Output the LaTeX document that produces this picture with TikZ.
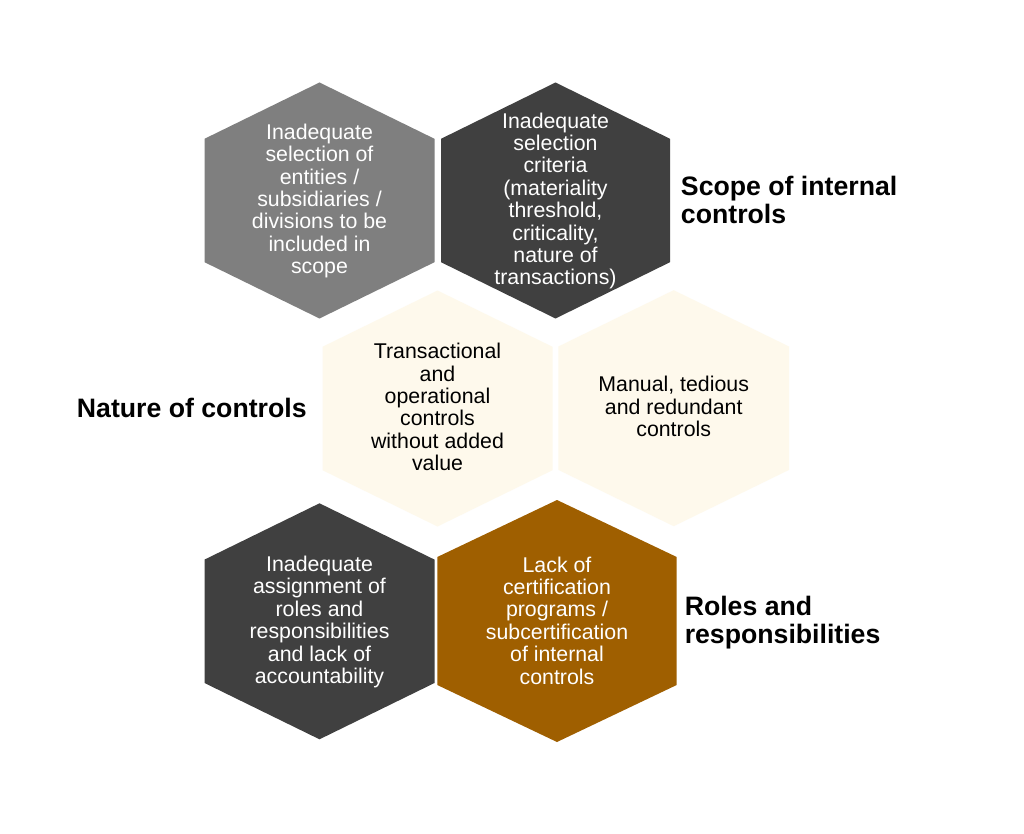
\documentclass[tikz,border=0pt]{standalone}
\usepackage{fontspec}
\setmainfont{Liberation Sans}
\definecolor{hgrey}{HTML}{7F7F7F}
\definecolor{hdark}{HTML}{404040}
\definecolor{hcream}{HTML}{FEF9EC}
\definecolor{hbrown}{HTML}{9F5F00}
\newcommand{\myhex}[6]{\fill[#6] ({#1},{#2-#4}) -- ({#1+#3},{#2-#5}) -- ({#1+#3},{#2+#5}) -- ({#1},{#2+#4}) -- ({#1-#3},{#2+#5}) -- ({#1-#3},{#2-#5}) -- cycle;}
\begin{document}
\begin{tikzpicture}[x=0.75pt,y=-0.75pt,
  hextext/.style={inner sep=0pt,align=center,font=\fontsize{16}{16.8}\selectfont},
  lighttext/.style={hextext,text=white},
  darktext/.style={hextext,text=black},
  heading/.style={inner sep=0pt,align=left,font=\fontsize{20}{21}\selectfont\bfseries,text=black}]
\useasboundingbox[fill=white] (0,0) rectangle (1024,834);
% hexagons
\myhex{319.5}{200.5}{115}{118}{61.7}{hgrey}
\myhex{555.5}{200.5}{114.5}{118}{61.7}{hdark}
\myhex{437.5}{408.5}{115}{118}{61.7}{hcream}
\myhex{673.7}{408.2}{115.3}{118}{61.7}{hcream}
\myhex{319.5}{621.3}{115}{118}{61.7}{hdark}
\myhex{557}{621}{119.7}{121}{64}{hbrown}
% texts
\node[lighttext] (t1) at (319.5,201) {Inadequate\\selection of\\entities /\\subsidiaries /\\divisions to be\\included in\\scope};
\node[lighttext] (t2) at (555.5,201) {Inadequate\\selection\\criteria\\(materiality\\threshold,\\criticality,\\nature of\\transactions)};
\node[darktext] (t3) at (437.5,407) {Transactional\\and\\operational\\controls\\without added\\value};
\node[darktext] (t4) at (673.7,406.5) {Manual, tedious\\and redundant\\controls};
\node[lighttext] (t5) at (319.5,622) {Inadequate\\assignment of\\roles and\\responsibilities\\and lack of\\accountability};
\node[lighttext] (t6) at (557,620.5) {Lack of\\certification\\programs /\\subcertification\\of internal\\controls};
% headings
\node[heading,anchor=west] (h1) at (680.7,199.5) {Scope of internal\\controls};
\node[heading,anchor=west] (h2) at (76.7,407.5) {Nature of controls};
\node[heading,anchor=west] (h3) at (684.5,622.5) {Roles and\\responsibilities};
\end{tikzpicture}
\end{document}
